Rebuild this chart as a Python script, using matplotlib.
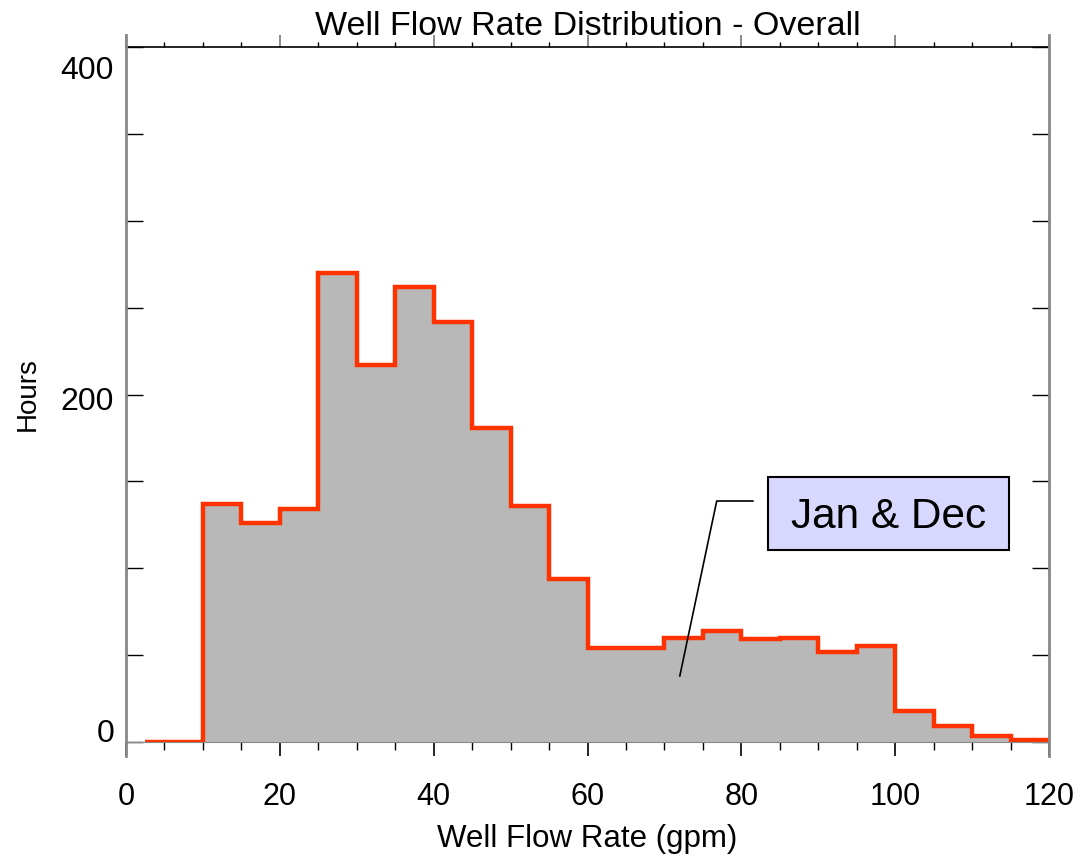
"""Well flow rate histogram, overall (Jan & Dec)"""
import numpy as np
import matplotlib
matplotlib.use("Agg")
import matplotlib.pyplot as plt
import matplotlib.transforms as mtransforms
from matplotlib.patches import Rectangle

# bin edges (gpm) and hours per bin
edges = [2.5, 5, 10, 15, 20, 25, 30, 35, 40, 45, 50, 55, 60, 65, 70, 75,
         80, 85, 90, 95, 100, 105, 110, 115, 120]
hours = [0, 0, 137, 126, 134, 270, 217, 262, 242, 181, 136, 94, 54, 54,
         60, 64, 59, 60, 52, 55, 18, 9, 3.5, 1]
x_ticks = [0, 20, 40, 60, 80, 100, 120]
y_ticks = [0, 200, 400]
label_text = "Jan & Dec"

plt.rcParams["font.family"] = ["Liberation Sans", "DejaVu Sans"]

fig = plt.figure(figsize=(10.91, 8.58), dpi=100)
ax = fig.add_axes([126 / 1091, 1 - 742 / 858, (1049 - 126) / 1091, (742 - 47) / 858])

edges_arr = np.array(edges)
hours_arr = np.array(hours)
ax.stairs(hours_arr, edges_arr, fill=True, color="#b8b8b8", zorder=2)
ax.stairs(hours_arr, edges_arr, color="#ff3300", linewidth=3.2, zorder=3,
          baseline=None)

ax.set_xlim(0, 120)
ax.set_ylim(0, 400)

# bottom ticks
ax.set_xticks(x_ticks)
ax.set_xticks(np.arange(0, 121, 5), minor=True)
ax.tick_params(axis="x", which="both", direction="out", labelsize=22, pad=19)
ax.tick_params(axis="x", which="major", length=10, width=1.2)
ax.tick_params(axis="x", which="minor", length=6, width=1)

# top ticks (shorter)
top = ax.secondary_xaxis("top")
top.set_xticks(x_ticks)
top.set_xticks(np.arange(0, 121, 5), minor=True)
top.tick_params(axis="x", which="both", direction="out", labeltop=False)
top.tick_params(axis="x", which="major", length=8.5, width=1.2, color="#777777")
top.tick_params(axis="x", which="minor", length=3.6, width=1)
top.spines["top"].set_color("black")
top.spines["top"].set_linewidth(1.2)

# y ticks, labels drawn by hand with the offsets seen in the original
ax.set_yticks(y_ticks)
ax.set_yticks(np.arange(0, 401, 50), minor=True)
ax.tick_params(axis="y", which="both", direction="in", right=True,
               length=12, width=1, labelleft=False)
ytrans = mtransforms.blended_transform_factory(ax.transAxes, ax.transData)
label_shift = {0: 8, 200: -8, 400: -24}
for val in y_ticks:
    ax.annotate(str(val), xy=(0, val), xycoords=ytrans,
                xytext=(-12, label_shift[val]), textcoords="offset pixels",
                ha="right", va="center", fontsize=23)

for side in ["left", "right", "top"]:
    ax.spines[side].set_visible(False)
ax.spines["bottom"].set_color("#888888")
ax.spines["bottom"].set_zorder(4)

# side lines run a bit past the top and bottom of the frame
for xa in [0, 1]:
    ax.plot([xa, xa], [-0.02, 1.017], transform=ax.transAxes, color="#888888",
            linewidth=2, clip_on=False, zorder=5)

ax.text(0.5, 1 + 12 / 695, "Well Flow Rate Distribution - Overall",
        transform=ax.transAxes, fontsize=24.5, ha="center", va="baseline")
ax.set_xlabel("Well Flow Rate (gpm)", fontsize=22.5)
ax.xaxis.set_label_coords(0.5, -0.118)
ax.set_ylabel("Hours", fontsize=20)
ax.yaxis.set_label_coords(-0.106, 0.5)
ax.yaxis.label.set_va("center")

ax.plot([72, 76.8, 81.5], [38, 138.7, 138.7], color="black", linewidth=1.2,
        zorder=6)
ax.add_patch(Rectangle((83.5, 110.5), 31.3, 42, facecolor="#d8d8ff",
                       edgecolor="black", linewidth=1.5, zorder=6))
ax.text(99.1, 123.2, label_text, fontsize=30.5, ha="center", va="baseline",
        zorder=7)

fig.savefig("out.png", dpi=100)
